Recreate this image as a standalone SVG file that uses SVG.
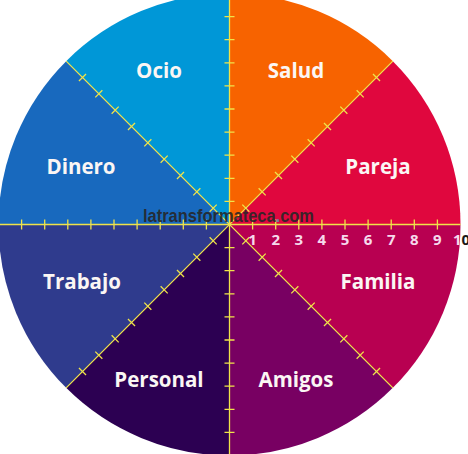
<svg xmlns="http://www.w3.org/2000/svg" xmlns:xlink="http://www.w3.org/1999/xlink" width="468" height="454" viewBox="0 0 468 454">
<style>
.lbl{font-family:"Open Sans","Liberation Sans",sans-serif;font-weight:700;font-size:20.5px;fill:#fbf6f4;text-anchor:middle}
.num{font-family:"Open Sans","Liberation Sans",sans-serif;font-weight:700;font-size:15px;fill:#f6d9ec;text-anchor:middle}
.axis{fill:none;stroke:#efe34a;stroke-width:1.3}
.wm{font-family:"Liberation Sans",Arial,sans-serif;font-weight:700;font-size:19px;fill:#262626;fill-opacity:0.9}
</style>
<defs>
<path id="axis" class="axis" d="M-231 0H231M23.1 -5v10M46.2 -5v10M69.3 -5v10M92.4 -5v10M115.5 -5v10M138.6 -5v10M161.7 -5v10M184.8 -5v10M207.9 -5v10M-23.1 -5v10M-46.2 -5v10M-69.3 -5v10M-92.4 -5v10M-115.5 -5v10M-138.6 -5v10M-161.7 -5v10M-184.8 -5v10M-207.9 -5v10"/>
</defs>
<rect width="468" height="454" fill="#ffffff"/>
<g id="salud"><path d="M229.5 224.5L229.5 -6.5A231 231 0 0 1 392.84 61.16Z" fill="#f76300"/><text class="lbl" x="296" y="78">Salud</text></g>
<g id="pareja"><path d="M229.5 224.5L392.84 61.16A231 231 0 0 1 460.5 224.5Z" fill="#e0073e"/><text class="lbl" x="378" y="174">Pareja</text></g>
<g id="familia"><path d="M229.5 224.5L460.5 224.5A231 231 0 0 1 392.84 387.84Z" fill="#b80051"/><text class="lbl" x="378" y="289">Familia</text></g>
<g id="amigos"><path d="M229.5 224.5L392.84 387.84A231 231 0 0 1 229.5 455.5Z" fill="#780062"/><text class="lbl" x="296" y="387">Amigos</text></g>
<g id="personal"><path d="M229.5 224.5L229.5 455.5A231 231 0 0 1 66.16 387.84Z" fill="#2c0052"/><text class="lbl" x="159" y="387">Personal</text></g>
<g id="trabajo"><path d="M229.5 224.5L66.16 387.84A231 231 0 0 1 -1.5 224.5Z" fill="#2f3b8d"/><text class="lbl" x="82" y="289">Trabajo</text></g>
<g id="dinero"><path d="M229.5 224.5L-1.5 224.5A231 231 0 0 1 66.16 61.16Z" fill="#1869be"/><text class="lbl" x="81" y="174">Dinero</text></g>
<g id="ocio"><path d="M229.5 224.5L66.16 61.16A231 231 0 0 1 229.5 -6.5Z" fill="#0097d7"/><text class="lbl" x="159" y="78">Ocio</text></g>
<g id="connectors">
<use xlink:href="#axis" href="#axis" transform="translate(229.5 224.5)"/>
<use xlink:href="#axis" href="#axis" transform="translate(229.5 224.5) rotate(45)"/>
<use xlink:href="#axis" href="#axis" transform="translate(229.5 224.5) rotate(90)"/>
<use xlink:href="#axis" href="#axis" transform="translate(229.5 224.5) rotate(135)"/>
</g>
<g id="scale">
<text class="num" x="252.6" y="245">1</text>
<text class="num" x="275.7" y="245">2</text>
<text class="num" x="298.8" y="245">3</text>
<text class="num" x="321.9" y="245">4</text>
<text class="num" x="345" y="245">5</text>
<text class="num" x="368.1" y="245">6</text>
<text class="num" x="391.2" y="245">7</text>
<text class="num" x="414.3" y="245">8</text>
<text class="num" x="437.4" y="245">9</text>
<text class="num" x="461.5" y="245">1<tspan fill="#1a1a1a">0</tspan></text>
</g>
<g id="watermark">
<text class="wm" x="143" y="222" textLength="171" lengthAdjust="spacingAndGlyphs">latransformateca<tspan fill="#6a93ad">.</tspan>com</text>
</g>
</svg>
